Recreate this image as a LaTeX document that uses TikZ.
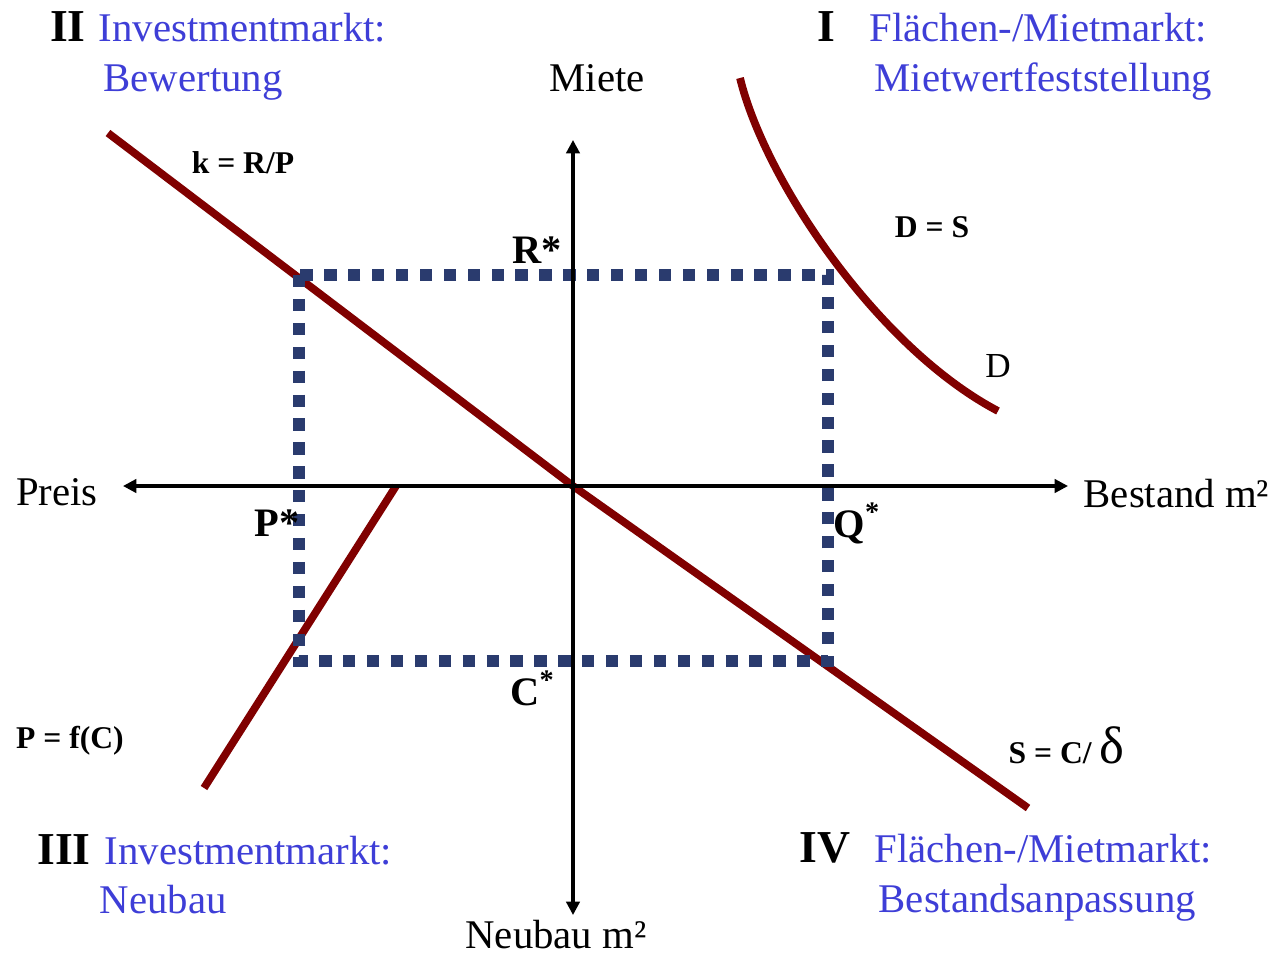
\documentclass[tikz,border=0pt]{standalone}
\usepackage{fontspec}
\setmainfont{Liberation Serif}
\usetikzlibrary{arrows.meta}
\definecolor{curvered}{RGB}{128,0,0}
\definecolor{guidenavy}{RGB}{42,59,110}
\definecolor{titleblue}{RGB}{62,62,215}

\begin{document}
\begin{tikzpicture}[
    inner sep=0pt,
    axis/.style={line width=0.9pt,
      {Triangle[length=3.8pt,width=3.8pt]}-{Triangle[length=3.8pt,width=3.8pt]}},
    curve/.style={curvered, line width=2.2pt},
    guide/.style={guidenavy, line width=3.6pt, dash pattern=on 3.5pt off 3.3pt},
    numeral/.style={anchor=base, font=\fontsize{13}{15}\selectfont\bfseries},
    market/.style={titleblue, anchor=base west, font=\fontsize{11.6}{14}\selectfont},
    axlabel/.style={anchor=base, font=\fontsize{11.6}{14}\selectfont},
    fnlabel/.style={anchor=base, font=\fontsize{9}{11}\selectfont\bfseries},
    eqlabel/.style={anchor=base, font=\fontsize{11.5}{14}\selectfont\bfseries}
  ]
    \useasboundingbox (-5.73,-4.69) rectangle (7.01,4.86);

    % axes and equilibrium box corners
    \coordinate (O)  at (0,0);
    \coordinate (xl) at (-4.50,0);
    \coordinate (xr) at (4.95,0);
    \coordinate (yt) at (0,3.46);
    \coordinate (yb) at (0,-4.29);
    \coordinate (boxtl) at (-2.74,2.11);
    \coordinate (boxbr) at (2.55,-1.75);

    % curve ends
    \coordinate (kfar) at (-4.65,3.53);
    \coordinate (sfar) at (4.55,-3.22);
    \coordinate (ptop) at (-1.77,0);
    \coordinate (pfar) at (-3.69,-3.02);
    \coordinate (dtop) at (1.67,4.08);
    \coordinate (dend) at (4.25,0.75);

    % market curves
    \draw[curve] (kfar) -- (O) -- (sfar);
    \draw[curve] (ptop) -- (pfar);
    \draw[curve] (dtop) .. controls (1.92,3.05) and (3.05,1.38) .. (dend);

    % equilibrium
    \draw[guide] (boxtl) rectangle (boxbr);

    \draw[axis] (xl) -- (xr);
    \draw[axis] (yb) -- (yt);

    % axis labels
    \node[axlabel] (miete)   at (0.24,3.95)   {Miete};
    \node[axlabel] (preis)   at (-5.16,-0.19) {Preis};
    \node[axlabel, anchor=base west] (bestand) at (5.10,-0.21) {Bestand m²};
    \node[axlabel] (neubau)  at (-0.17,-4.62) {Neubau m²};

    % quadrant titles
    \node[numeral] (qII)  at (-5.05,4.44) {II};
    \node[market]  (tII)  at (-4.75,4.44) {Investmentmarkt:};
    \node[market]  (sII)  at (-4.70,3.95) {Bewertung};
    \node[numeral] (qI)   at (2.53,4.44)  {I};
    \node[market]  (tI)   at (2.96,4.44)  {Flächen-/Mietmarkt:};
    \node[market]  (sI)   at (3.01,3.95)  {Mietwertfeststellung};
    \node[numeral] (qIII) at (-5.09,-3.78) {III};
    \node[market]  (tIII) at (-4.69,-3.78) {Investmentmarkt:};
    \node[market]  (sIII) at (-4.74,-4.27) {Neubau};
    \node[numeral] (qIV)  at (2.52,-3.76) {IV};
    \node[market]  (tIV)  at (3.01,-3.76) {Flächen-/Mietmarkt:};
    \node[market]  (sIV)  at (3.05,-4.26) {Bestandsanpassung};

    % function labels
    \node[fnlabel] (klab) at (-3.30,3.13) {k = R/P};
    \node[fnlabel] (dslab) at (3.59,2.49) {D = S};
    \node[anchor=base, font=\fontsize{10}{12}\selectfont] (dlab) at (4.25,1.09) {D};
    \node[fnlabel] (plab) at (-5.03,-2.62) {P = f(C)};
    \node[fnlabel, anchor=base west] (slab) at (4.35,-2.77)
      {S = C/ {\mdseries\fontsize{15}{17}\selectfont δ}};

    % equilibrium values
    \node[eqlabel] (rstar) at (-0.36,2.23) {R*};
    \node[eqlabel] (pstar) at (-2.96,-0.50) {P*};
    \node[eqlabel, anchor=base west] (qstar) at (2.60,-0.51) {Q\textsuperscript{*}};
    \node[eqlabel] (cstar) at (-0.40,-2.19) {C\textsuperscript{*}};
\end{tikzpicture}
\end{document}
